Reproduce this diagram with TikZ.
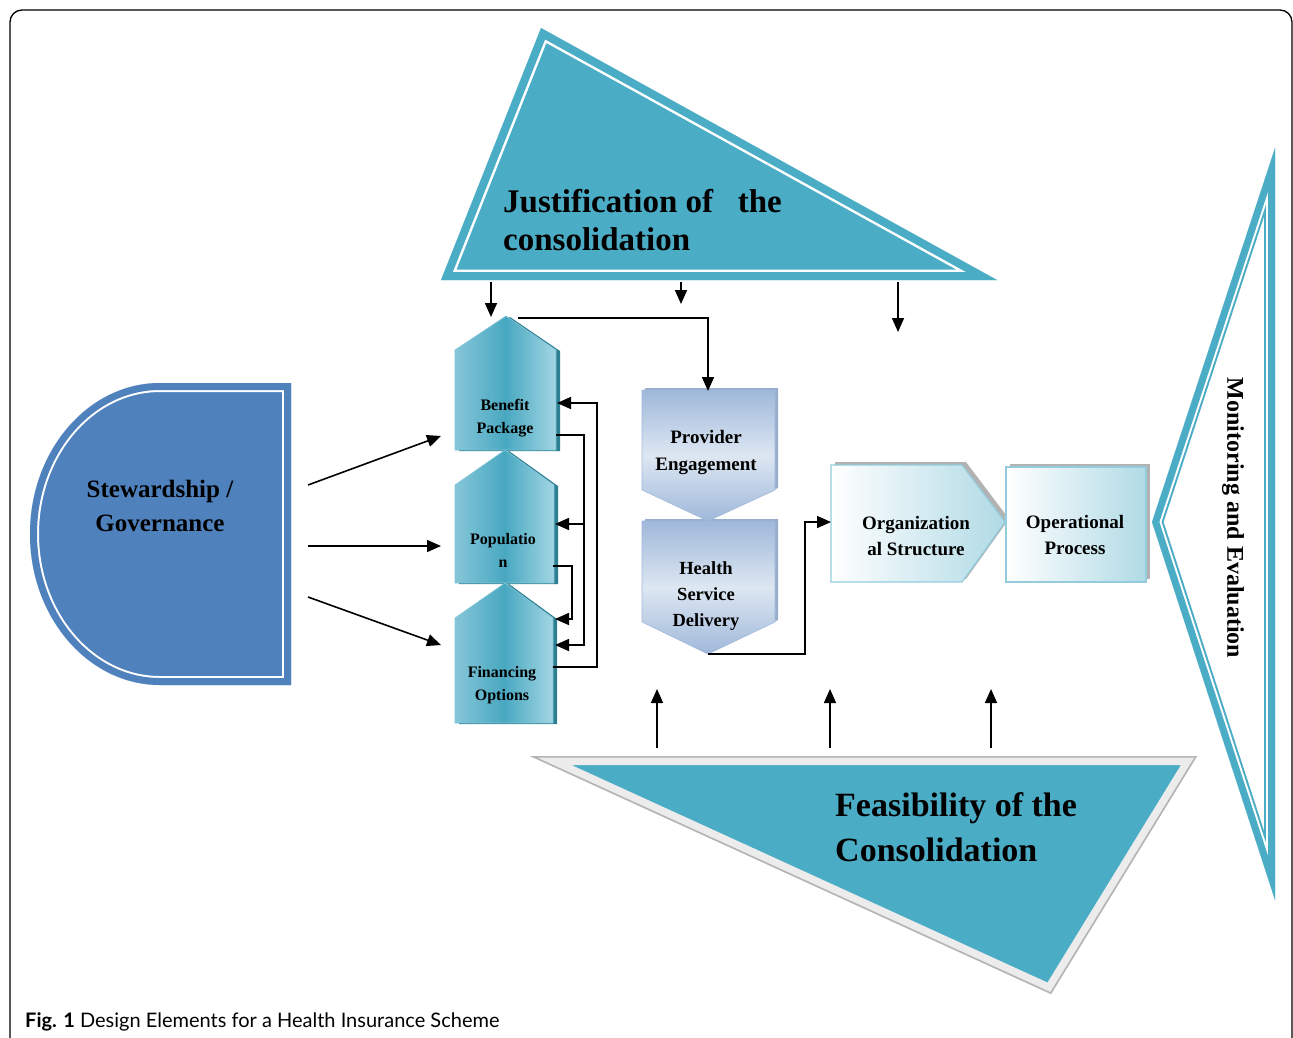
\documentclass[tikz,border=0pt]{standalone}
\usepackage{fontspec}
\setmainfont{Liberation Serif}
\newfontfamily\capfont{Lato}
\usetikzlibrary{arrows.meta}
\definecolor{teal1}{HTML}{4BACC6}
\definecolor{tealdk}{HTML}{2F7F93}
\definecolor{tealL}{HTML}{86C6D8}
\definecolor{tealR}{HTML}{A3D6E3}
\definecolor{tealM}{HTML}{48A8C1}
\definecolor{blueg}{HTML}{4F81BD}
\definecolor{provA}{HTML}{9FB8DA}
\definecolor{provB}{HTML}{DDE7F2}
\definecolor{provSh}{HTML}{98ADCB}
\definecolor{orgR}{HTML}{B0DAE5}
\definecolor{orgE}{HTML}{93CDDD}
\definecolor{feasB}{HTML}{ECECEC}
\definecolor{feasG}{HTML}{B4B4B4}
\begin{document}
\begin{tikzpicture}[x=1pt,y=-1pt,line join=miter,miter limit=20,
  conn/.style={line width=1.6pt,-{Triangle[length=14pt,width=12pt]}},
  lbl/.style={inner sep=0pt,align=center,font=\bfseries},
  Jtri/.style={insert path={(541,28) -- (997,280) -- (441,280) -- cycle}},
  Ftri/.style={insert path={(530,756) -- (1197,756) -- (1051,994) -- cycle}},
  Mtri/.style={insert path={(1275,148) -- (1275,900) -- (1152,522) -- cycle}},
  Stew/.style={insert path={(291,383) -- (160,383) arc[start angle=270,end angle=90,x radius=130,y radius=151] -- (291,685) -- cycle}},
  benS/.style={insert path={(455,350) -- (506,316) -- (556,350) -- (556,450) -- (455,450) -- cycle}},
  popS/.style={insert path={(455,485) -- (505,450) -- (554,485) -- (554,583) -- (455,583) -- cycle}},
  finS/.style={insert path={(455,618) -- (505,583) -- (553,618) -- (553,723) -- (455,723) -- cycle}},
  provShape/.style={insert path={(642,390) -- (775,390) -- (775,490) -- (708,521) -- (642,490) -- cycle}},
  hsdShape/.style={insert path={(642,521) -- (775,521) -- (775,622) -- (708,654) -- (642,622) -- cycle}},
  orgShape/.style={insert path={(831,465) -- (962,465) -- (1005,522) -- (962,582) -- (831,582) -- cycle}},
  opsShape/.style={insert path={(1006,467) -- (1146,467) -- (1146,582) -- (1006,582) -- cycle}},
  tealshade/.style={left color=tealL,right color=tealR,middle color=tealM},
  provshade/.style={top color=provA,bottom color=provA,middle color=provB},
  orgshade/.style={left color=white,right color=orgR}]
\useasboundingbox (0,0) rectangle (1293,1037);
% frame
\draw[line width=1.3pt] (10,1050) -- (10,22) arc[start angle=180,end angle=270,radius=12] -- (1280,10) arc[start angle=270,end angle=360,radius=12] -- (1292,1050);

% Justification triangle
\fill[teal1,Jtri];
\begin{scope}
  \clip[Jtri];
  \draw[white,line width=21pt,Jtri];
  \draw[teal1,line width=16pt,Jtri];
\end{scope}
\node[lbl,anchor=north west,align=left,font=\fontsize{33}{38}\selectfont\bfseries] (jt) at (503,189) {Justification of \ \ the\\consolidation};

% Feasibility triangle
\fill[teal1,Ftri];
\begin{scope}
  \clip[Ftri];
  \draw[feasB,line width=18pt,Ftri];
  \draw[feasG,line width=3pt,Ftri];
\end{scope}
\node[lbl,anchor=north west,align=left,font=\fontsize{34}{45}\selectfont\bfseries] (ft) at (835,792) {Feasibility of the\\Consolidation};

% Monitoring triangle
\fill[white,Mtri];
\begin{scope}
  \clip[Mtri];
  \draw[teal1,line width=22pt,Mtri];
  \draw[white,line width=18pt,Mtri];
  \draw[teal1,line width=14pt,Mtri];
\end{scope}
\node[lbl,rotate=-90,font=\fontsize{24}{28}\selectfont\bfseries] (mt) at (1233,518) {Monitoring and Evaluation};

% Stewardship
\fill[blueg,Stew];
\begin{scope}
  \clip[Stew];
  \draw[white,line width=18pt,Stew];
  \draw[blueg,line width=14pt,Stew];
\end{scope}
\node[lbl,font=\fontsize{25}{34}\selectfont\bfseries] (st) at (160,506) {Stewardship /\\Governance};

% teal pentagons
\begin{scope}[shift={(4,1)}]
  \fill[tealdk,benS]; \fill[tealdk,popS]; \fill[tealdk,finS];
\end{scope}
\shade[tealshade,benS]; \draw[teal1!70,line width=0.6pt,benS];
\shade[tealshade,popS]; \draw[teal1!70,line width=0.6pt,popS];
\shade[tealshade,finS]; \draw[teal1!70,line width=0.6pt,finS];
\node[lbl,font=\fontsize{16}{23}\selectfont\bfseries] (bp) at (505,418) {Benefit\\Package};
\node[lbl,font=\fontsize{16}{23}\selectfont\bfseries] (po) at (503,550) {Populatio\\n};
\node[lbl,font=\fontsize{16}{23}\selectfont\bfseries] (fo) at (502,685) {Financing\\Options};

% provider / health
\begin{scope}[shift={(3,-2)}]
  \fill[provSh,provShape]; \fill[provSh,hsdShape];
\end{scope}
\shade[provshade,provShape]; \draw[provA,line width=0.6pt,provShape];
\shade[provshade,hsdShape]; \draw[provA,line width=0.6pt,hsdShape];
\node[lbl,font=\fontsize{19}{27}\selectfont\bfseries] (pe) at (706,452) {Provider\\Engagement};
\node[lbl,font=\fontsize{18.5}{26}\selectfont\bfseries] (hs) at (706,596) {Health\\Service\\Delivery};

% organization / operational
\begin{scope}[shift={(4,-3)}]
  \fill[black!30,orgShape]; \fill[black!30,opsShape];
\end{scope}
\shade[orgshade,orgShape]; \draw[orgE,line width=1.2pt,orgShape];
\shade[orgshade,opsShape]; \draw[orgE,line width=1.2pt,opsShape];
\node[lbl,font=\fontsize{19}{26}\selectfont\bfseries] (os) at (916,536) {Organization\\al Structure};
\node[lbl,font=\fontsize{19}{26}\selectfont\bfseries] (op) at (1075,535) {Operational\\Process};

% connector end points
\coordinate (sA) at (308,485); \coordinate (bL) at (441,436);
\coordinate (sB) at (308,546); \coordinate (pL) at (441,546);
\coordinate (sC) at (308,597); \coordinate (fL) at (441,645);
\coordinate (jA) at (491,282); \coordinate (bTop) at (491,317);
\coordinate (jB) at (681,282); \coordinate (jBend) at (681,304);
\coordinate (jC) at (898,282); \coordinate (jCend) at (898,332);
\coordinate (fA) at (657,748); \coordinate (fAend) at (657,689);
\coordinate (fB) at (830,748); \coordinate (fBend) at (830,689);
\coordinate (fC) at (991,748); \coordinate (fCend) at (991,689);
\coordinate (bApex) at (518,318); \coordinate (peTop) at (708,391);
\coordinate (bIn) at (557,403); \coordinate (bOut) at (556,435);
\coordinate (pIn) at (555,524); \coordinate (pOut) at (553,566);
\coordinate (fIn1) at (555,619); \coordinate (fIn2) at (555,645);
\coordinate (fOut) at (553,667); \coordinate (jn) at (584,524);
\coordinate (hsBot) at (708,654); \coordinate (osIn) at (831,522);

\draw[conn] (sA) -- (bL);
\draw[conn] (sB) -- (pL);
\draw[conn] (sC) -- (fL);
\draw[conn] (jA) -- (bTop);
\draw[conn] (jB) -- (jBend);
\draw[conn] (jC) -- (jCend);
\draw[conn] (fA) -- (fAend);
\draw[conn] (fB) -- (fBend);
\draw[conn] (fC) -- (fCend);
\draw[conn] (bApex) -| (peTop);
\draw[conn] (fOut) -- ++(44,0) |- (bIn);
\draw[conn] (bOut) -- ++(28,0) |- (fIn2);
\draw[conn] (jn) -- (pIn);
\draw[conn] (pOut) -- ++(19,0) |- (fIn1);
\draw[conn] (hsBot) -- ++(97,0) |- (osIn);

% caption
\node[anchor=base west,inner sep=0pt,font=\capfont\fontsize{20}{24}\selectfont] (cap) at (25,1027) {\textbf{Fig. 1} Design Elements for a Health Insurance Scheme};
\end{tikzpicture}
\end{document}
